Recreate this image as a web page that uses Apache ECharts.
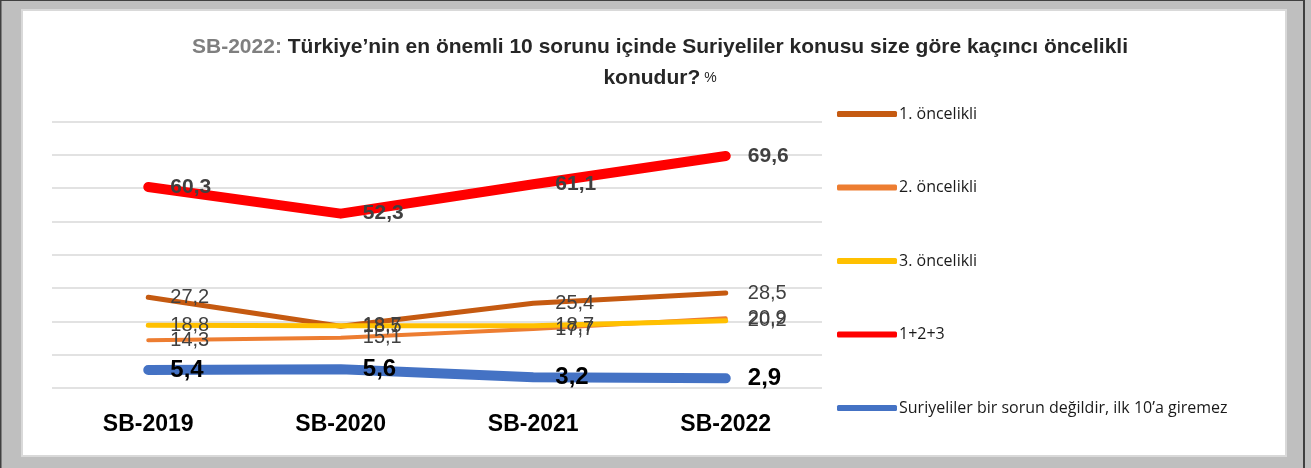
<!DOCTYPE html>
<html>
<head>
<meta charset="utf-8">
<script src="https://cdn.jsdelivr.net/npm/echarts@6/dist/echarts.min.js"></script>
<style>
html,body{margin:0;padding:0;background:#bfbfbf;}
#c{width:1311px;height:468px;}
</style>
</head>
<body>
<div id="c"></div>
<script>
const categories = ['SB-2019', 'SB-2020', 'SB-2021', 'SB-2022'];
const seriesNames = ['1. öncelikli', '2. öncelikli', '3. öncelikli', '1+2+3', 'Suriyeliler bir sorun değildir, ilk 10’a giremez'];
const firstPriority = [27.2, 18.5, 25.4, 28.5];
const secondPriority = [14.3, 15.1, 17.7, 20.9];
const thirdPriority = [18.8, 18.7, 18.7, 20.2];
const totalTop3 = [60.3, 52.3, 61.1, 69.6];
const notAProblem = [5.4, 5.6, 3.2, 2.9];

const fmt = p => Number(p.value).toFixed(1).replace('.', ',');
const FONT = "'Liberation Sans', Arial, sans-serif";

function lineSeries(name, data, color, width, label) {
  return {
    name: name, type: 'line', data: data,
    symbol: 'circle', symbolSize: 0.1, showSymbol: true, smooth: false,
    lineStyle: { color: color, width: width, cap: 'round', join: 'round' },
    itemStyle: { color: color },
    label: Object.assign({ show: true, position: 'right', distance: 22, formatter: fmt, fontFamily: FONT }, label),
    labelLayout: { hideOverlap: false },
    emphasis: { disabled: true }
  };
}

const chart = echarts.init(document.getElementById('c'), null, { renderer: 'canvas' });
chart.setOption({
  backgroundColor: '#bfbfbf',
  animation: false,
  graphic: [
    { type: 'rect', shape: { x: 0, y: 0, width: 1.5, height: 468 }, style: { fill: '#404040' }, z: -10 },
    { type: 'rect', shape: { x: 0, y: 0, width: 1305, height: 1 }, style: { fill: '#404040' }, z: -10 },
    { type: 'rect', shape: { x: 1303, y: 0, width: 2, height: 468 }, style: { fill: '#404040' }, z: -10 },
    { type: 'rect', shape: { x: 21, y: 9, width: 1266, height: 448 }, style: { fill: '#d9d9d9' }, z: -10 },
    { type: 'rect', shape: { x: 23, y: 11, width: 1262, height: 444 }, style: { fill: '#ffffff' }, z: -9 }
  ],
  title: {
    text: '{g|SB-2022:} {b|Türkiye’nin en önemli 10 sorunu içinde Suriyeliler konusu size göre kaçıncı öncelikli}\n{b|konudur?}{p| %}',
    left: 655, top: 27, textAlign: 'center',
    textStyle: {
      fontFamily: FONT, fontSize: 21, fontWeight: 'bold', lineHeight: 31,
      rich: {
        g: { color: '#7f7f7f', fontSize: 21, fontWeight: 'bold', fontFamily: FONT, lineHeight: 31 },
        b: { color: '#262626', fontSize: 21, fontWeight: 'bold', fontFamily: FONT, lineHeight: 31 },
        p: { color: '#262626', fontSize: 14, fontWeight: 'normal', fontFamily: FONT, lineHeight: 31 }
      }
    }
  },
  legend: {
    orient: 'vertical', left: 837, top: 106, padding: 0,
    itemWidth: 60, itemHeight: 6, itemGap: 57.5,
    icon: 'roundRect',
    textStyle: { fontFamily: "'Open Sans', sans-serif", fontSize: 16, lineHeight: 16, color: '#1a1a1a', padding: [0, 0, 0, -3] },
    data: seriesNames
  },
  grid: { left: 52, top: 121.3, width: 770, height: 266.7, containLabel: false },
  xAxis: {
    type: 'category', data: categories, boundaryGap: true,
    axisLine: { show: false }, axisTick: { show: false },
    axisLabel: { fontFamily: FONT, fontSize: 23, fontWeight: 'bold', color: '#000000', margin: 25 }
  },
  yAxis: {
    type: 'value', min: 0, max: 80, interval: 10,
    axisLabel: { show: false }, axisLine: { show: false }, axisTick: { show: false },
    splitLine: { lineStyle: { color: '#d9d9d9', width: 1.5 } }
  },
  series: [
    lineSeries(seriesNames[0], firstPriority, '#c55a11', 5, { fontSize: 20, color: '#404040', offset: [0, 2] }),
    lineSeries(seriesNames[1], secondPriority, '#ed7d31', 4, { fontSize: 20, color: '#404040', offset: [0, 4] }),
    lineSeries(seriesNames[2], thirdPriority, '#ffc000', 5, { fontSize: 20, color: '#404040', offset: [0, 0] }),
    lineSeries(seriesNames[3], totalTop3, '#ff0000', 10, { fontSize: 21, fontWeight: 'bold', color: '#404040', offset: [0, 4] }),
    lineSeries(seriesNames[4], notAProblem, '#4472c4', 10, { fontSize: 24, fontWeight: 'bold', color: '#000000', offset: [0, 2] })
  ]
});
</script>
</body>
</html>
